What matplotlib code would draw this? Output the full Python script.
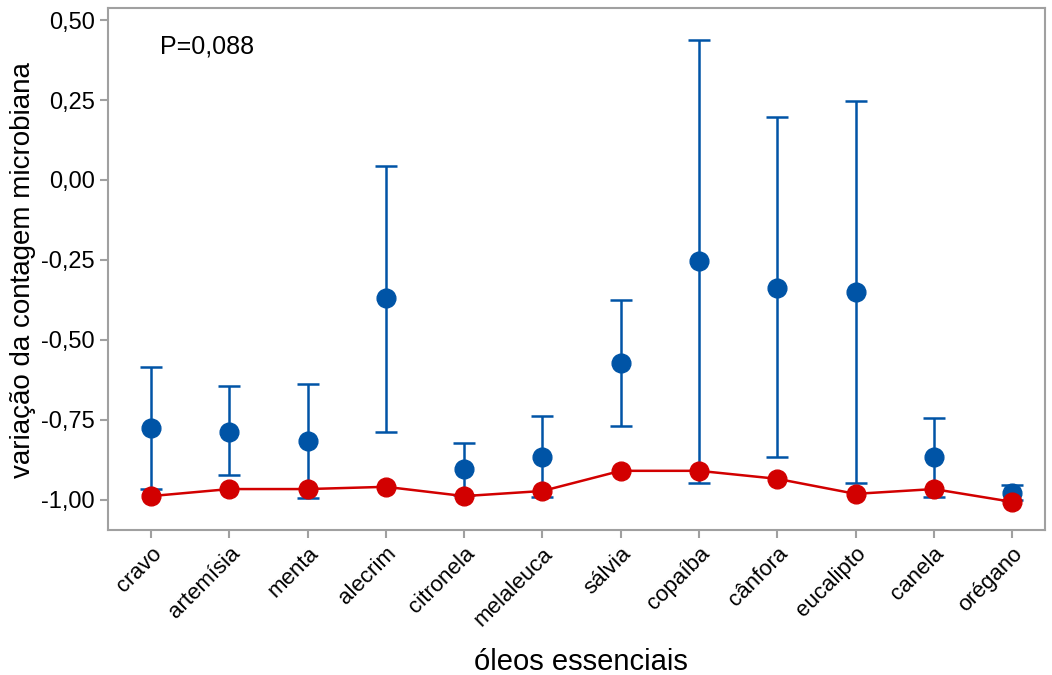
import matplotlib
matplotlib.use("Agg")
import matplotlib.pyplot as plt

oleos = ["cravo", "artemísia", "menta", "alecrim", "citronela", "melaleuca",
         "sálvia", "copaíba", "cânfora", "eucalipto", "canela", "orégano"]

# blue series: mean with interval
media = [-0.775, -0.788, -0.816, -0.369, -0.903, -0.866,
         -0.572, -0.253, -0.338, -0.350, -0.866, -0.978]
sup = [-0.584, -0.644, -0.638, 0.044, -0.822, -0.738,
       -0.375, 0.4375, 0.197, 0.247, -0.744, -0.953]
inf = [-0.966, -0.922, -0.994, -0.788, -0.985, -0.990,
       -0.769, -0.947, -0.866, -0.947, -0.990, -1.000]

# red series
linha = [-0.988, -0.966, -0.966, -0.959, -0.988, -0.972,
         -0.909, -0.909, -0.934, -0.981, -0.966, -1.006]

plt.rcParams["font.family"] = ["Liberation Sans", "DejaVu Sans"]

fig = plt.figure(figsize=(10.52, 6.75), dpi=100)
ax = fig.add_axes([0.1027, 0.2148, 0.8906, 0.7733])

x = list(range(len(oleos)))
azul = "#0054a6"
vermelho = "#d20000"

err = [[m - l for m, l in zip(media, inf)], [s - m for s, m in zip(sup, media)]]
ax.errorbar(x, media, yerr=err, fmt="o", color=azul, ms=13.5, elinewidth=1.8,
            capsize=8, capthick=1.8, zorder=2)
ax.plot(x, linha, "-o", color=vermelho, ms=13.5, lw=1.8, zorder=3)

ax.set_xlim(-0.55, 11.42)
ax.set_ylim(-1.094, 0.5375)
ax.set_yticks([0.5, 0.25, 0.0, -0.25, -0.5, -0.75, -1.0])
ax.set_yticklabels(["0,50", "0,25", "0,00", "-0,25", "-0,50", "-0,75", "-1,00"],
                   fontsize=17)
ax.set_xticks(x)
ax.set_xticklabels(oleos, rotation=45, ha="right", rotation_mode="anchor",
                   fontsize=16)

for s in ax.spines.values():
    s.set_color("#a0a0a0")
    s.set_linewidth(1.5)
ax.tick_params(color="#a0a0a0", width=1.5, length=6)

fig.text(0.022, 0.6, "variação da contagem microbiana", fontsize=20,
         rotation=90, ha="center", va="center")
fig.text(0.552, 0.019, "óleos essenciais", fontsize=21, ha="center", va="center")
ax.text(0.055, 0.95, "P=0,088", transform=ax.transAxes, fontsize=18,
        va="top", ha="left")

fig.savefig("out.png", dpi=100)
